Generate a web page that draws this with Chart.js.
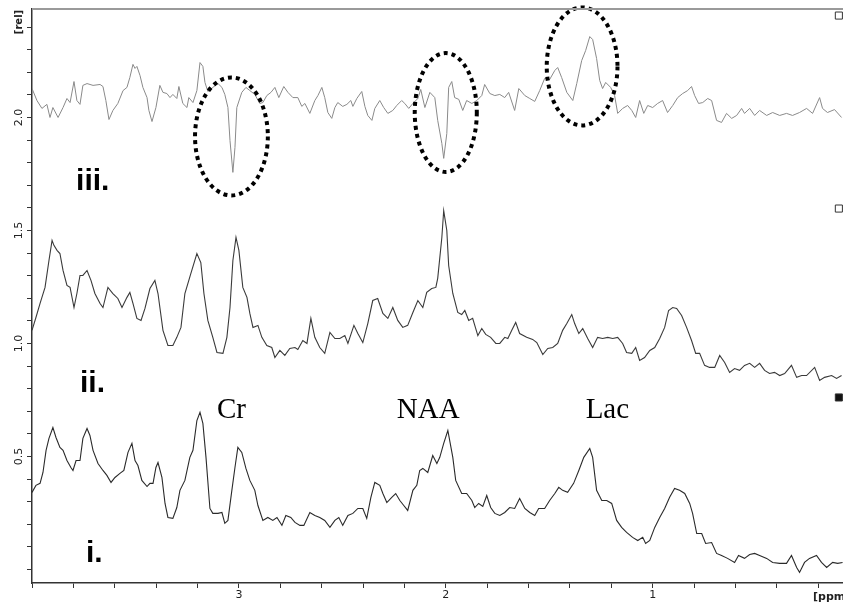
<!DOCTYPE html>
<html>
<head>
<meta charset="utf-8">
<script src="https://cdn.jsdelivr.net/npm/chart.js@4/dist/chart.umd.min.js"></script>
<style>
  html, body { margin: 0; padding: 0; background: #fff; }
  #wrap { width: 843px; height: 604px; }
</style>
</head>
<body>
<div id="wrap"><canvas id="spectrum" width="843" height="604"></canvas></div>
<script>
// spectrum iii (difference, grey)
var ppmIII = [4.000,3.976,3.952,3.928,3.913,3.899,3.874,3.850,3.831,3.816,
  3.797,3.783,3.768,3.754,3.734,3.705,3.671,3.657,3.643,3.628,
  3.609,3.585,3.560,3.541,3.527,3.512,3.502,3.493,3.478,3.464,
  3.444,3.435,3.420,3.401,3.382,3.367,3.348,3.333,3.319,3.300,
  3.290,3.271,3.251,3.242,3.222,3.203,3.188,3.174,3.164,3.150,
  3.126,3.101,3.082,3.068,3.053,3.043,3.029,3.019,3.010,2.986,
  2.966,2.947,2.923,2.899,2.884,2.865,2.845,2.826,2.807,2.783,
  2.763,2.739,2.715,2.696,2.681,2.657,2.633,2.618,2.599,2.585,
  2.570,2.551,2.536,2.522,2.498,2.478,2.459,2.449,2.430,2.406,
  2.391,2.377,2.357,2.343,2.319,2.300,2.280,2.256,2.237,2.213,
  2.198,2.179,2.159,2.135,2.121,2.101,2.077,2.053,2.039,2.019,
  2.010,1.995,1.986,1.971,1.957,1.937,1.918,1.899,1.874,1.850,
  1.826,1.812,1.787,1.763,1.739,1.715,1.696,1.667,1.647,1.618,
  1.594,1.570,1.546,1.522,1.498,1.473,1.459,1.440,1.415,1.386,
  1.367,1.343,1.324,1.304,1.290,1.271,1.256,1.242,1.227,1.203,
  1.184,1.169,1.145,1.121,1.101,1.082,1.063,1.043,1.024,1.000,
  0.976,0.952,0.928,0.903,0.879,0.855,0.831,0.812,0.797,0.778,
  0.758,0.734,0.715,0.691,0.667,0.643,0.618,0.594,0.570,0.556,
  0.531,0.507,0.483,0.449,0.420,0.386,0.353,0.324,0.290,0.256,
  0.227,0.193,0.179,0.155,0.121,0.087];
var relIII = [2.128,2.075,2.040,2.058,2.000,2.044,2.000,2.044,2.084,2.066,
  2.159,2.075,2.058,2.142,2.150,2.142,2.146,2.137,2.075,1.991,
  2.031,2.062,2.119,2.133,2.177,2.235,2.217,2.226,2.186,2.133,
  2.088,2.031,1.982,2.044,2.142,2.111,2.106,2.088,2.102,2.084,
  2.137,2.062,2.044,2.088,2.066,2.119,2.243,2.226,2.155,2.115,
  2.133,2.150,2.133,2.102,2.044,1.898,1.757,1.867,2.044,2.111,
  2.133,2.119,2.102,2.062,2.066,2.097,2.111,2.133,2.088,2.137,
  2.111,2.088,2.088,2.049,2.062,2.018,2.075,2.097,2.133,2.088,
  2.022,1.996,2.044,2.066,2.049,2.058,2.075,2.049,2.084,2.115,
  2.049,2.009,1.987,2.040,2.075,2.044,2.018,2.031,2.053,2.075,
  2.062,2.040,2.062,2.084,2.124,2.044,2.111,2.088,1.987,1.885,
  1.819,1.929,2.133,2.159,2.088,2.080,2.031,2.075,2.062,2.075,
  2.097,2.146,2.106,2.097,2.102,2.088,2.111,2.031,2.128,2.097,
  2.084,2.071,2.119,2.173,2.168,2.208,2.221,2.177,2.111,2.075,
  2.150,2.252,2.296,2.358,2.345,2.261,2.164,2.128,2.155,2.133,
  2.097,2.018,2.040,2.053,2.031,2.000,2.075,2.018,2.053,2.044,
  2.062,2.075,2.022,2.053,2.088,2.106,2.119,2.137,2.097,2.062,
  2.066,2.084,2.075,1.987,1.978,2.018,1.996,2.009,2.040,2.018,
  2.040,2.009,2.031,2.009,2.022,2.009,2.018,2.009,2.022,2.040,
  2.018,2.088,2.040,2.022,2.035,2.000];

// spectrum ii
var ppmII = [4.000,3.981,3.961,3.937,3.918,3.903,3.894,3.879,3.865,3.850,
  3.831,3.816,3.797,3.783,3.768,3.754,3.734,3.715,3.696,3.671,
  3.657,3.633,3.609,3.585,3.565,3.541,3.527,3.512,3.493,3.473,
  3.454,3.430,3.406,3.391,3.367,3.343,3.319,3.300,3.280,3.261,
  3.232,3.203,3.184,3.169,3.150,3.126,3.106,3.077,3.058,3.043,
  3.029,3.014,3.000,2.981,2.961,2.947,2.932,2.908,2.889,2.865,
  2.841,2.826,2.802,2.778,2.754,2.729,2.715,2.691,2.671,2.652,
  2.633,2.609,2.585,2.560,2.536,2.512,2.488,2.473,2.444,2.425,
  2.401,2.377,2.353,2.329,2.304,2.280,2.256,2.232,2.208,2.184,
  2.159,2.135,2.111,2.092,2.068,2.048,2.039,2.019,2.010,1.995,
  1.986,1.966,1.942,1.923,1.908,1.889,1.870,1.845,1.826,1.807,
  1.783,1.758,1.739,1.715,1.700,1.681,1.662,1.643,1.609,1.580,
  1.560,1.531,1.507,1.483,1.459,1.435,1.415,1.391,1.377,1.357,
  1.338,1.314,1.290,1.266,1.242,1.217,1.193,1.169,1.145,1.126,
  1.101,1.082,1.063,1.039,1.014,0.990,0.966,0.942,0.923,0.903,
  0.884,0.860,0.836,0.812,0.792,0.773,0.749,0.725,0.700,0.676,
  0.652,0.628,0.604,0.580,0.556,0.531,0.507,0.483,0.459,0.435,
  0.411,0.386,0.362,0.329,0.304,0.280,0.256,0.217,0.193,0.169,
  0.135,0.111,0.087];
var relII = [1.058,1.115,1.177,1.248,1.367,1.456,1.434,1.412,1.398,1.323,
  1.257,1.248,1.159,1.221,1.301,1.301,1.323,1.279,1.221,1.177,
  1.159,1.248,1.221,1.199,1.159,1.204,1.226,1.177,1.111,1.102,
  1.155,1.243,1.279,1.221,1.058,0.991,0.991,1.027,1.071,1.221,
  1.310,1.398,1.358,1.221,1.102,1.027,0.960,0.956,1.027,1.159,
  1.367,1.469,1.412,1.248,1.204,1.133,1.071,1.080,1.027,0.991,
  0.982,0.938,0.969,0.947,0.978,0.982,0.973,1.013,1.000,1.111,
  1.027,0.982,0.956,1.049,1.022,1.022,1.035,1.000,1.080,1.044,
  1.004,1.088,1.190,1.199,1.133,1.111,1.159,1.102,1.071,1.080,
  1.137,1.190,1.159,1.226,1.243,1.248,1.288,1.469,1.588,1.500,
  1.345,1.221,1.137,1.128,1.146,1.102,1.111,1.035,1.066,1.040,
  1.027,1.000,1.000,1.027,1.022,1.058,1.093,1.044,1.027,1.018,
  1.004,0.951,0.978,0.982,1.000,1.058,1.088,1.128,1.088,1.044,
  1.066,1.022,0.982,1.027,1.022,1.027,1.022,1.027,1.000,0.960,
  0.956,0.982,0.925,0.938,0.969,0.982,1.022,1.071,1.146,1.159,
  1.155,1.124,1.071,1.013,0.956,0.956,0.903,0.894,0.894,0.947,
  0.916,0.872,0.889,0.881,0.903,0.912,0.894,0.912,0.881,0.867,
  0.872,0.858,0.867,0.903,0.850,0.858,0.858,0.894,0.836,0.850,
  0.858,0.845,0.858];

// spectrum i
var ppmI = [4.000,3.981,3.961,3.947,3.932,3.918,3.899,3.884,3.865,3.850,
  3.831,3.812,3.802,3.787,3.768,3.754,3.734,3.720,3.705,3.681,
  3.657,3.638,3.618,3.599,3.575,3.556,3.536,3.517,3.502,3.488,
  3.469,3.444,3.430,3.415,3.401,3.391,3.372,3.357,3.343,3.319,
  3.300,3.285,3.261,3.237,3.222,3.203,3.188,3.174,3.159,3.140,
  3.126,3.101,3.082,3.068,3.053,3.034,3.019,3.005,2.986,2.966,
  2.947,2.923,2.908,2.884,2.860,2.836,2.816,2.792,2.773,2.749,
  2.729,2.705,2.686,2.657,2.633,2.609,2.585,2.560,2.536,2.517,
  2.498,2.473,2.449,2.425,2.401,2.382,2.362,2.343,2.319,2.304,
  2.285,2.261,2.242,2.222,2.203,2.184,2.159,2.140,2.126,2.111,
  2.087,2.063,2.043,2.029,2.010,1.990,1.966,1.952,1.923,1.899,
  1.874,1.860,1.841,1.821,1.802,1.783,1.763,1.739,1.715,1.691,
  1.667,1.643,1.618,1.594,1.570,1.551,1.522,1.498,1.473,1.454,
  1.435,1.411,1.382,1.357,1.333,1.304,1.290,1.271,1.246,1.222,
  1.198,1.174,1.150,1.126,1.097,1.072,1.048,1.034,1.014,0.990,
  0.966,0.942,0.918,0.894,0.870,0.845,0.821,0.807,0.787,0.763,
  0.744,0.715,0.691,0.667,0.638,0.604,0.585,0.556,0.531,0.507,
  0.483,0.449,0.420,0.386,0.353,0.329,0.304,0.290,0.266,0.242,
  0.208,0.184,0.159,0.130,0.106,0.082];
var relI = [0.341,0.372,0.381,0.429,0.527,0.580,0.628,0.584,0.540,0.527,
  0.482,0.451,0.438,0.482,0.482,0.580,0.624,0.593,0.527,0.469,
  0.438,0.416,0.385,0.407,0.425,0.438,0.518,0.558,0.482,0.460,
  0.394,0.367,0.381,0.381,0.451,0.473,0.407,0.292,0.230,0.226,
  0.274,0.350,0.394,0.496,0.527,0.659,0.695,0.646,0.496,0.270,
  0.248,0.248,0.252,0.204,0.217,0.350,0.451,0.540,0.518,0.447,
  0.394,0.350,0.283,0.217,0.230,0.217,0.230,0.195,0.239,0.230,
  0.208,0.195,0.195,0.252,0.239,0.230,0.217,0.186,0.217,0.230,
  0.195,0.239,0.248,0.270,0.270,0.226,0.319,0.385,0.372,0.336,
  0.296,0.319,0.336,0.305,0.283,0.261,0.350,0.372,0.438,0.447,
  0.429,0.504,0.469,0.496,0.558,0.615,0.496,0.394,0.336,0.336,
  0.305,0.274,0.292,0.279,0.327,0.274,0.248,0.239,0.252,0.274,
  0.270,0.314,0.270,0.252,0.239,0.270,0.270,0.305,0.336,0.363,
  0.350,0.341,0.381,0.438,0.496,0.535,0.496,0.350,0.305,0.305,
  0.292,0.217,0.186,0.164,0.142,0.128,0.142,0.115,0.128,0.186,
  0.230,0.270,0.319,0.358,0.350,0.336,0.292,0.248,0.159,0.159,
  0.115,0.119,0.071,0.062,0.049,0.031,0.062,0.049,0.066,0.071,
  0.062,0.049,0.031,0.027,0.027,0.062,0.009,-0.013,0.031,0.049,
  0.062,0.031,0.009,0.031,0.027,0.031];

// axes
var xTicks = [4.0,3.8,3.6,3.4,3.2,3.0,2.8,2.6,2.4,2.2,2.0,1.8,1.6,1.4,1.2,1.0,0.8,0.6,0.4,0.2];
var xLabelled = [3, 2, 1];
var yTicks = [0.0,0.1,0.2,0.3,0.4,0.5,0.6,0.7,0.8,0.9,1.0,1.1,1.2,1.3,1.4,1.5,1.6,1.7,1.8,1.9,2.0,2.1,2.2,2.3,2.4];
var yLabelled = [0.5, 1.0, 1.5, 2.0];

// dotted ovals round the peaks of iii (centre and half size in ppm / rel)
var ovalPpm = [3.036, 2.000, 1.341];
var ovalRel = [1.916, 2.022, 2.226];
var ovalHalfPpm = [0.176, 0.150, 0.171];
var ovalHalfRel = [0.261, 0.263, 0.261];

// text on the plot: [text, ppm of left edge, rel of baseline]
var traceNames = [["iii.", 3.787, 1.677], ["ii.", 3.768, 0.783], ["i.", 3.739, 0.031]];
var peakNames = [["Cr", 3.106, 0.668], ["NAA", 2.237, 0.668], ["Lac", 1.324, 0.668]];

// little square markers on the right edge
var markPpm = [0.10, 0.10, 0.10];
var markRel = [2.451, 1.597, 0.761];
var markFilled = [false, false, true];

function pairs(xs, ys) {
    return xs.map(function (v, i) { return { x: v, y: ys[i] }; });
}

var decor = {
    id: "decor",
    afterDatasetsDraw: function (chart) {
        var ctx = chart.ctx;
        var xs = chart.scales.x, ys = chart.scales.y;
        ctx.save();
        ctx.strokeStyle = "#000";
        ctx.lineWidth = 4;
        ctx.setLineDash([4, 4]);
        ovalPpm.forEach(function (p, i) {
            var cx = xs.getPixelForValue(p), cy = ys.getPixelForValue(ovalRel[i]);
            var rx = Math.abs(xs.getPixelForValue(p + ovalHalfPpm[i]) - cx);
            var ry = Math.abs(ys.getPixelForValue(ovalRel[i] + ovalHalfRel[i]) - cy);
            ctx.beginPath();
            ctx.ellipse(cx, cy, rx, ry, 0, 0, Math.PI * 2);
            ctx.stroke();
        });
        ctx.setLineDash([]);

        ctx.fillStyle = "#000";
        ctx.textAlign = "left";
        ctx.textBaseline = "alphabetic";
        ctx.font = "bold 30px 'Liberation Sans', Arial, sans-serif";
        traceNames.forEach(function (t) {
            ctx.fillText(t[0], xs.getPixelForValue(t[1]), ys.getPixelForValue(t[2]));
        });
        ctx.font = "29px 'Liberation Serif', 'Times New Roman', serif";
        peakNames.forEach(function (t) {
            ctx.fillText(t[0], xs.getPixelForValue(t[1]), ys.getPixelForValue(t[2]));
        });
        ctx.restore();
    },
    afterDraw: function (chart) {
        var ctx = chart.ctx, area = chart.chartArea, ys = chart.scales.y;
        ctx.save();
        // grey frame line along the top
        ctx.strokeStyle = "#9a9a9a";
        ctx.lineWidth = 2;
        ctx.beginPath();
        ctx.moveTo(area.left, area.top);
        ctx.lineTo(area.right, area.top);
        ctx.stroke();

        // rotated y labels
        ctx.fillStyle = "#222";
        ctx.textAlign = "center";
        ctx.textBaseline = "middle";
        ctx.font = "11px 'DejaVu Sans', Verdana, sans-serif";
        yLabelled.forEach(function (v) {
            ctx.save();
            ctx.translate(19, ys.getPixelForValue(v));
            ctx.rotate(-Math.PI / 2);
            ctx.fillText(v.toFixed(1), 0, 0);
            ctx.restore();
        });
        ctx.save();
        ctx.font = "bold 10px 'DejaVu Sans', Verdana, sans-serif";
        ctx.translate(19, 22);
        ctx.rotate(-Math.PI / 2);
        ctx.fillText("[rel]", 0, 0);
        ctx.restore();

        ctx.font = "bold 11px 'DejaVu Sans', Verdana, sans-serif";
        ctx.textAlign = "left";
        ctx.fillText("[ppm]", 813, 597);
        ctx.restore();
    }
};

var markSets = markPpm.map(function (p, i) {
    return {
        data: [{ x: p, y: markRel[i] }],
        showLine: false,
        pointStyle: "rect",
        pointRadius: 5,
        pointBorderWidth: 1,
        pointBorderColor: "#333",
        pointBackgroundColor: markFilled[i] ? "#111" : "#fff"
    };
});

var traceStyle = function (data, color, width) {
    return {
        data: data,
        showLine: true,
        borderColor: color,
        borderWidth: width,
        pointRadius: 0,
        tension: 0
    };
};

new Chart(document.getElementById("spectrum"), {
    type: "scatter",
    data: {
        datasets: [
            traceStyle(pairs(ppmIII, relIII), "#8a8a8a", 1),
            traceStyle(pairs(ppmII, relII), "#3a3a3a", 1.1),
            traceStyle(pairs(ppmI, relI), "#2a2a2a", 1.1)
        ].concat(markSets)
    },
    options: {
        responsive: false,
        animation: false,
        layout: { autoPadding: false, padding: { top: 9, left: 0, right: 0, bottom: 0 } },
        plugins: { legend: { display: false }, tooltip: { enabled: false } },
        scales: {
            x: {
                type: "linear",
                reverse: true,
                min: 0.08,
                max: 4.0,
                afterBuildTicks: function (scale) {
                    scale.ticks = xTicks.map(function (v) { return { value: v }; });
                },
                afterFit: function (scale) { scale.height = 21; },
                grid: { drawOnChartArea: false, drawTicks: true, tickLength: 5, color: "#333" },
                border: { color: "#333", width: 1.5 },
                ticks: {
                    padding: 1,
                    maxRotation: 0,
                    autoSkip: false,
                    color: "#222",
                    font: { family: "'DejaVu Sans', Verdana, sans-serif", size: 11 },
                    callback: function (v) {
                        return xLabelled.indexOf(Math.round(v * 10) / 10) >= 0 ? String(Math.round(v)) : "";
                    }
                }
            },
            y: {
                type: "linear",
                min: -0.06,
                max: 2.48,
                afterBuildTicks: function (scale) {
                    scale.ticks = yTicks.map(function (v) { return { value: v }; });
                },
                afterFit: function (scale) { scale.width = 32; },
                grid: { drawOnChartArea: false, drawTicks: true, tickLength: 5, color: "#333" },
                border: { color: "#333", width: 1.5 },
                ticks: { display: false }
            }
        }
    },
    plugins: [decor]
});
</script>
</body>
</html>
